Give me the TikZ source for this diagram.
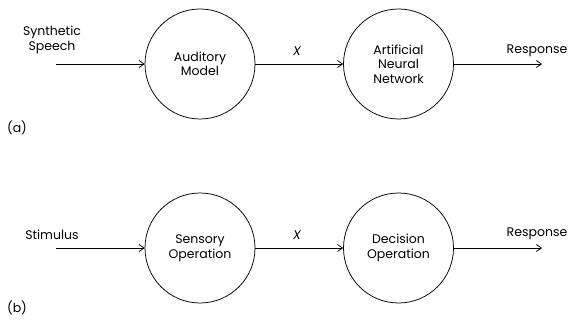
\documentclass[tikz,border=0pt]{standalone}
\usepackage{fontspec}
\setmainfont{Poppins}
\usetikzlibrary{arrows.meta}
\begin{document}
\begin{tikzpicture}[x=1pt,y=-1pt,
  proc/.style={circle,draw,line width=0.75pt,minimum size=110pt,inner sep=0pt,align=center,font=\fontsize{12.5}{14.5}\selectfont},
  lbl/.style={inner sep=0pt,align=center,font=\fontsize{12.5}{14.5}\selectfont},
  flow/.style={line width=0.75pt,-{Straight Barb[length=5pt,width=7pt]}}]
\useasboundingbox (0,0) rectangle (572,320);
% (a)
\node[proc] (am) at (200,64) {Auditory\\Model};
\node[proc] (ann) at (398.5,64) {Artificial\\Neural\\Network};
\coordinate (ain) at (56,64);
\coordinate (aout) at (542,64);
\draw[flow] (ain) -- (am);
\draw[flow] (am) -- (ann);
\draw[flow] (ann) -- (aout);
\node[lbl] (ass) at (52,40) {Synthetic\\Speech};
\node[lbl] (ax) at (297,51) {\itshape X};
\node[lbl] (aresp) at (537,51) {Response};
\node[lbl] (alab) at (17,128) {(a)};
% (b)
\node[proc] (so) at (200,248) {Sensory\\Operation};
\node[proc] (do) at (398.5,248) {Decision\\Operation};
\coordinate (bin) at (56,248);
\coordinate (bout) at (542,248);
\draw[flow] (bin) -- (so);
\draw[flow] (so) -- (do);
\draw[flow] (do) -- (bout);
\node[lbl] (bst) at (52,235) {Stimulus};
\node[lbl] (bx) at (297,235) {\itshape X};
\node[lbl] (bresp) at (537,234) {Response};
\node[lbl] (blab) at (17,308) {(b)};
\end{tikzpicture}
\end{document}
